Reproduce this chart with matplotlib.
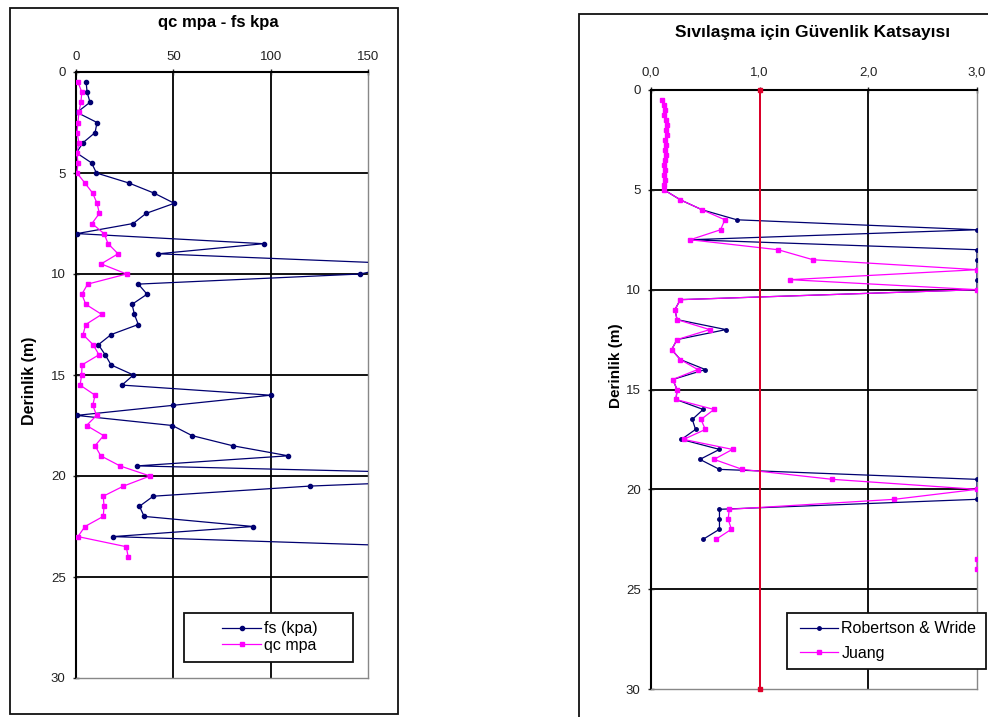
import numpy as np
import matplotlib.pyplot as plt
from matplotlib.patches import Rectangle

plt.rcParams['font.family'] = ['Liberation Sans', 'DejaVu Sans']

# --- CPT: sleeve friction (kPa) and cone resistance (MPa) vs depth ---
fs_depth = [0.5, 1.0, 1.5, 2.0, 2.5, 3.0, 3.5, 4.0, 4.5, 5.0,
            5.5, 6.0, 6.5, 7.0, 7.5, 8.0, 8.5, 9.0, 9.5, 10.0,
            10.5, 11.0, 11.5, 12.0, 12.5, 13.0, 13.5, 14.0, 14.5, 15.0,
            15.5, 16.0, 16.5, 17.0, 17.5, 18.0, 18.5, 19.0, 19.5, 20.0,
            20.5, 21.0, 21.5, 22.0, 22.5, 23.0, 23.5]
fs_kpa = [5.2, 5.7, 7.2, 0.5, 10.8, 9.8, 3.6, 0.2, 8.0, 10.5,
          27.3, 40.2, 50.5, 36.0, 29.4, 0.5, 96.4, 42.2, 170.0, 146.0,
          32.0, 36.5, 28.8, 30.0, 32.0, 18.0, 11.5, 15.0, 18.0, 29.5,
          23.6, 100.0, 50.0, 0.3, 49.5, 59.6, 80.4, 109.0, 31.4, 250.0,
          120.0, 39.7, 32.6, 35.0, 91.0, 19.0, 180.0]

qc_depth = [0.5, 1.0, 1.5, 2.0, 2.5, 3.0, 3.5, 4.0, 4.5, 5.0,
            5.5, 6.0, 6.5, 7.0, 7.5, 8.0, 8.5, 9.0, 9.5, 10.0,
            10.5, 11.0, 11.5, 12.0, 12.5, 13.0, 13.5, 14.0, 14.5, 15.0,
            15.5, 16.0, 16.5, 17.0, 17.5, 18.0, 18.5, 19.0, 19.5, 20.0,
            20.5, 21.0, 21.5, 22.0, 22.5, 23.0, 23.5, 24.0]
qc_mpa = [1.0, 3.0, 2.5, 1.5, 1.0, 0.5, 1.5, 0.5, 1.0, 0.5,
          4.6, 8.6, 10.8, 12.0, 8.2, 14.4, 16.5, 21.6, 12.9, 26.0,
          6.0, 3.0, 5.0, 13.2, 5.0, 3.6, 8.8, 11.8, 3.1, 2.9,
          2.1, 9.8, 8.6, 10.6, 5.4, 14.2, 9.8, 12.7, 22.6, 38.0,
          24.4, 14.0, 14.4, 14.0, 4.6, 1.0, 25.8, 26.8]

# --- factor of safety against liquefaction ---
fos_depth = [0.5, 0.75, 1.0, 1.25, 1.5, 1.75, 2.0, 2.25, 2.5, 2.75,
             3.0, 3.25, 3.5, 3.75, 4.0, 4.25, 4.5, 4.75, 5.0,
             5.5, 6.0, 6.5, 7.0, 7.5, 8.0, 8.5, 9.0, 9.5, 10.0,
             10.5, 11.0, 11.5, 12.0, 12.5, 13.0, 13.5, 14.0, 14.5, 15.0,
             15.5, 16.0, 16.5, 17.0, 17.5, 18.0, 18.5, 19.0, 19.5, 20.0,
             20.5, 21.0, 21.5, 22.0, 22.5, 23.0, 23.5, 24.0]
robertson = [0.10, 0.12, 0.13, 0.12, 0.14, 0.15, 0.14, 0.15, 0.13, 0.14,
             0.13, 0.14, 0.13, 0.12, 0.13, 0.12, 0.13, 0.12, 0.12,
             0.27, 0.47, 0.79, 3.0, 0.36, 3.0, 3.0, 3.0, 3.0, 3.0,
             0.27, 0.22, 0.24, 0.69, 0.24, 0.19, 0.27, 0.50, 0.20, 0.24,
             0.23, 0.48, 0.38, 0.41, 0.28, 0.63, 0.45, 0.63, 3.0, 3.0,
             3.0, 0.63, 0.63, 0.63, 0.48, np.nan, np.nan, np.nan]
juang = [0.10, 0.12, 0.13, 0.12, 0.14, 0.15, 0.14, 0.15, 0.13, 0.14,
         0.13, 0.14, 0.13, 0.12, 0.13, 0.12, 0.13, 0.12, 0.12,
         0.27, 0.47, 0.68, 0.64, 0.36, 1.17, 1.49, 3.0, 1.28, 3.0,
         0.27, 0.22, 0.24, 0.54, 0.24, 0.19, 0.27, 0.43, 0.20, 0.24,
         0.23, 0.58, 0.46, 0.50, 0.30, 0.75, 0.58, 0.84, 1.67, 3.0,
         2.24, 0.72, 0.71, 0.74, 0.60, np.nan, 3.0, 3.0]
limit_x = [1.0, 1.0]
limit_depth = [0, 30]

navy = '#000070'
pink = '#ff00ff'
W, H = 988, 717

fig = plt.figure(figsize=(9.88, 7.17), dpi=100)


def box(x0, y0, x1, y1):
    # pixel box -> figure fraction [left, bottom, width, height]
    return [x0 / W, 1 - y1 / H, (x1 - x0) / W, (y1 - y0) / H]


def frame(x0, y0, x1, y1, fill=False, z=1):
    r = Rectangle((x0 / W, 1 - y1 / H), (x1 - x0) / W, (y1 - y0) / H,
                  transform=fig.transFigure, fill=fill, fc='white',
                  ec='#111111', lw=1.3, zorder=z)
    fig.patches.append(r)


def excel_style(ax, xmax, xticks, xlabels, pad):
    ax.set_xlim(0, xmax)
    ax.set_ylim(30, 0)
    ax.xaxis.tick_top()
    ax.set_xticks(xticks)
    ax.set_xticklabels(xlabels, color='#333333')
    ax.set_yticks(range(0, 31, 5))
    ax.tick_params(axis='both', labelsize=9.5, length=5, width=1,
                   direction='inout', colors='#222222')
    ax.tick_params(axis='x', pad=pad)
    ax.tick_params(axis='y', pad=5)
    for xv in xticks[1:-1]:
        ax.axvline(xv, color='black', lw=1.3, zorder=1)
    for yv in range(5, 30, 5):
        ax.axhline(yv, color='black', lw=1.3, zorder=1)
    for s in ('top', 'left'):
        ax.spines[s].set_color('black')
        ax.spines[s].set_linewidth(1.5)
    for s in ('right', 'bottom'):
        ax.spines[s].set_color('#888888')
        ax.spines[s].set_linewidth(1.0)


# outer chart frames
frame(10, 8, 398, 714)
frame(579, 14, 1100, 800)

# left: qc / fs profile
ax1 = fig.add_axes(box(76, 72, 368, 678))
excel_style(ax1, 150, [0, 50, 100, 150], ['0', '50', '100', '150'], 4)
l_fs, = ax1.plot(fs_kpa, fs_depth, color=navy, lw=0.9, marker='o', ms=3,
                 label='fs (kpa)', zorder=3)
l_qc, = ax1.plot(qc_mpa, qc_depth, color=pink, lw=0.9, marker='s', ms=3,
                 label='qc mpa', zorder=4)
ax1.set_ylabel('Derinlik (m)', fontsize=11.5, fontweight='bold')
ax1.yaxis.set_label_coords(-0.134, 0.49)
fig.text(218 / W, 1 - 22 / H, 'qc mpa - fs kpa', ha='center', va='center',
         fontsize=12, fontweight='bold')

frame(184, 613, 353, 662, fill=True, z=4)
fig.legend(handles=[l_fs, l_qc], loc='center',
           bbox_to_anchor=(270 / W, 1 - 637 / H), fontsize=11.5,
           frameon=False, handlelength=2.4, handletextpad=0.2,
           labelspacing=0.1, borderpad=0, borderaxespad=0)

# right: factor of safety
ax2 = fig.add_axes(box(651, 90, 977, 689))
excel_style(ax2, 3.0, [0, 1, 2, 3], ['0,0', '1,0', '2,0', '3,0'], 6)
l_rw, = ax2.plot(robertson, fos_depth, color=navy, lw=0.9, marker='o',
                 ms=2.5, label='Robertson & Wride', zorder=3)
l_ju, = ax2.plot(juang, fos_depth, color=pink, lw=0.9, marker='s', ms=3,
                 label='Juang', zorder=4)
ax2.plot(limit_x, limit_depth, color='#e0002a', lw=1.4, marker='s', ms=3,
         zorder=5, clip_on=False)
ax2.set_ylabel('Derinlik (m)', fontsize=11, fontweight='bold')
ax2.yaxis.set_label_coords(-0.086, 0.54)
fig.text(813 / W, 1 - 32 / H, 'Sıvılaşma için Güvenlik Katsayısı',
         ha='center', va='center', fontsize=12.5, fontweight='bold')

frame(787, 613, 986, 669, fill=True, z=4)
fig.legend(handles=[l_rw, l_ju], loc='center',
           bbox_to_anchor=(888 / W, 1 - 641 / H), fontsize=11.5,
           frameon=False, handlelength=2.4, handletextpad=0.2,
           labelspacing=0.6, borderpad=0, borderaxespad=0)

fig.savefig('out.png', dpi=100)
